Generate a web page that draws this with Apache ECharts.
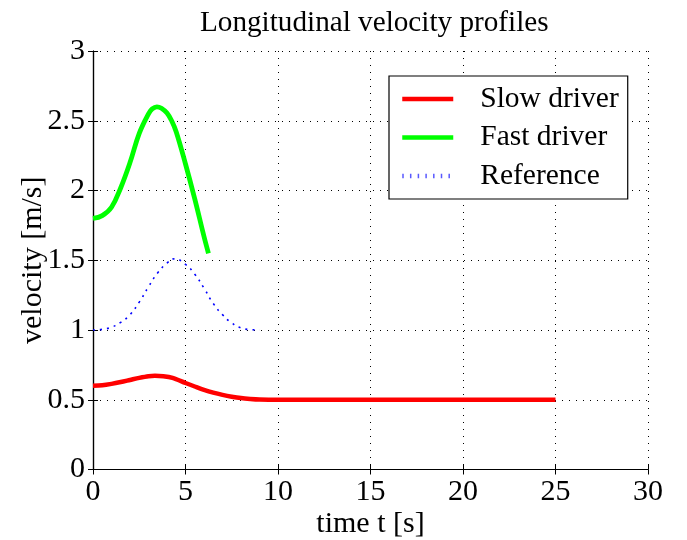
<!DOCTYPE html>
<html>
<head>
<meta charset="utf-8">
<script src="https://cdn.jsdelivr.net/npm/echarts@6/dist/echarts.min.js"></script>
<style>html,body{margin:0;padding:0;background:#fff}#c{width:687px;height:540px}</style>
</head>
<body>
<div id="c"></div>
<script>
const seriesNames = ['Slow driver', 'Fast driver', 'Reference'];
const slowT = [0, 0.5, 1, 1.5, 2, 2.5, 3, 3.35, 3.8, 4.3, 5, 5.5, 6, 6.5, 7, 7.5, 8, 8.5, 9, 10, 25];
const slowV = [0.6, 0.604, 0.614, 0.627, 0.642, 0.657, 0.669, 0.672, 0.669, 0.657, 0.62, 0.595, 0.571, 0.551, 0.535, 0.522, 0.512, 0.506, 0.502, 0.5, 0.5];
const fastT = [0, 0.5, 1, 1.5, 2, 2.5, 3, 3.2, 3.45, 3.7, 4, 4.25, 4.5, 5, 5.5, 6, 6.24];
const fastV = [1.80, 1.82, 1.88, 2.02, 2.20, 2.41, 2.55, 2.585, 2.60, 2.59, 2.555, 2.50, 2.42, 2.19, 1.94, 1.67, 1.55];
const refT = [0, 0.5, 1, 1.5, 2, 2.5, 3, 3.5, 4, 4.4, 5, 5.5, 6, 6.5, 7, 7.5, 8, 8.5, 9];
const refV = [1.0, 1.005, 1.02, 1.055, 1.11, 1.2, 1.31, 1.41, 1.48, 1.51, 1.47, 1.40, 1.30, 1.19, 1.11, 1.05, 1.015, 1.003, 1.0];
const xTicks = [0, 5, 10, 15, 20, 25, 30];
const yTicks = [0, 0.5, 1, 1.5, 2, 2.5, 3];

const pairs = (t, v) => t.map((x, i) => [x, v[i]]);
const font = 'Liberation Serif, Times New Roman, serif';
const tick = { show: true, inside: true, length: 5, lineStyle: { color: '#000', width: 1 } };
const axLine = { show: true, lineStyle: { color: '#000', width: 1.2 } };
const gridLine = { show: true, lineStyle: { color: '#000', type: [1, 6], width: 1 } };
const chart = echarts.init(document.getElementById('c'));
chart.setOption({
  animation: false,
  backgroundColor: '#fff',
  title: {
    text: 'Longitudinal velocity profiles',
    left: 195, top: 4,
    textStyle: { fontFamily: font, fontSize: 29.2, fontWeight: 'normal', color: '#000' }
  },
  grid: { left: 93, right: 39, top: 51, bottom: 70.5, show: false, containLabel: false, outerBoundsMode: 'none' },
  legend: {
    orient: 'vertical',
    left: 389, top: 76,
    padding: [8, 9, 8, 11],
    itemWidth: 51, itemHeight: 14, itemGap: 8.5,
    borderColor: '#000', borderWidth: 1.2, backgroundColor: '#fff',
    itemStyle: { opacity: 0 },
    textStyle: { fontFamily: font, fontSize: 29.5, color: '#000', padding: [0, 0, 0, 22] },
    data: [
      { name: seriesNames[0], lineStyle: { width: 4.5 } },
      { name: seriesNames[1], lineStyle: { width: 4.5 } },
      { name: seriesNames[2], lineStyle: { width: 4.5, type: [1.5, 6.2], opacity: 0.65 } }
    ]
  },
  xAxis: [{
    type: 'value', min: xTicks[0], max: xTicks[xTicks.length - 1], interval: 5,
    name: 'time t [s]', nameLocation: 'middle', nameGap: 40, nameMoveOverlap: false,
    nameTextStyle: { fontFamily: font, fontSize: 30, color: '#000' },
    axisLine: axLine, axisTick: tick,
    axisLabel: { fontFamily: font, fontSize: 30, color: '#000', margin: 8 },
    splitLine: gridLine
  }, {
    type: 'value', position: 'top', min: xTicks[0], max: xTicks[xTicks.length - 1], interval: 5,
    axisLine: axLine, axisTick: tick, axisLabel: { show: false }, splitLine: { show: false }
  }],
  yAxis: [{
    type: 'value', min: yTicks[0], max: yTicks[yTicks.length - 1], interval: 0.5,
    name: 'velocity [m/s]', nameLocation: 'middle', nameGap: 45, nameRotate: 90, nameMoveOverlap: false,
    nameTextStyle: { fontFamily: font, fontSize: 30, color: '#000' },
    axisLine: axLine, axisTick: tick,
    axisLabel: { fontFamily: font, fontSize: 30, color: '#000', margin: 8 },
    splitLine: gridLine
  }, {
    type: 'value', position: 'right', min: yTicks[0], max: yTicks[yTicks.length - 1], interval: 0.5,
    axisLine: axLine, axisTick: tick, axisLabel: { show: false }, splitLine: { show: false }
  }],
  series: [
    { name: seriesNames[0], type: 'line', data: pairs(slowT, slowV), symbol: 'none', smooth: 0.3,
      lineStyle: { color: '#ff0000', width: 4.5 }, itemStyle: { color: '#ff0000' } },
    { name: seriesNames[1], type: 'line', data: pairs(fastT, fastV), symbol: 'none', smooth: 0.4,
      lineStyle: { color: '#00ff00', width: 4.8 }, itemStyle: { color: '#00ff00' } },
    { name: seriesNames[2], type: 'line', data: pairs(refT, refV), symbol: 'none', smooth: 0.5,
      lineStyle: { color: '#0000ff', width: 1.6, type: [2, 5] }, itemStyle: { color: '#0000ff' } }
  ]
});
</script>
</body>
</html>
